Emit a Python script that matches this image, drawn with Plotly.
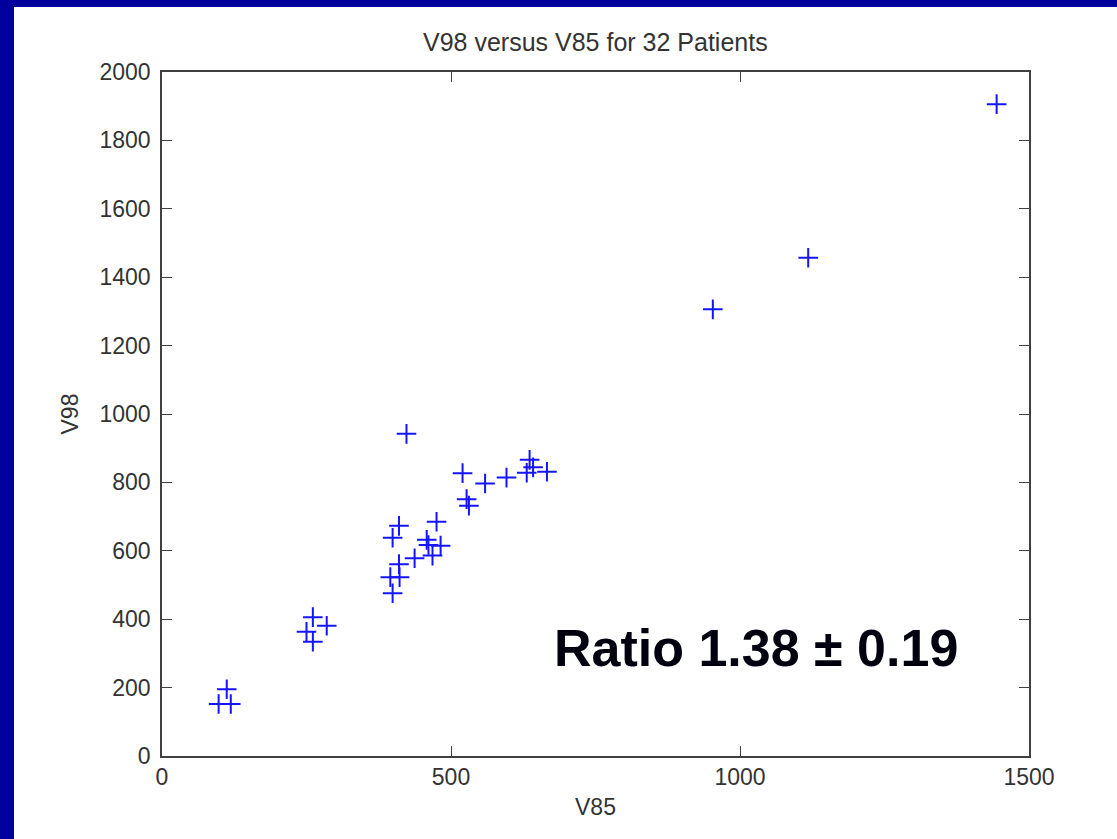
import plotly.graph_objects as go

# V85 / V98 volumes for each of the 32 patients
v85 = [1444, 1118, 953,
       423, 520, 559, 596, 636, 642, 631, 666, 527, 531,
       475, 410, 399, 458, 461, 482, 468, 437, 410, 395, 411, 399,
       261, 285, 250, 261, 112, 98, 119]
v98 = [1906, 1457, 1306,
       942, 827, 797, 814, 866, 844, 828, 831, 751, 732,
       685, 673, 638, 632, 617, 615, 586, 578, 561, 523, 523, 476,
       406, 381, 363, 334, 195, 152, 152]

x_ticks = [0, 500, 1000, 1500]
y_ticks = [0, 200, 400, 600, 800, 1000, 1200, 1400, 1600, 1800, 2000]

title_text = "V98 versus V85 for 32 Patients"
ratio_text = "Ratio 1.38 ± 0.19"

W, H = 1117, 839
L, R, T, B = 162, 88, 72, 83
pw, ph = W - L - R, H - T - B

def px_x(p):
    return (p - L) / pw

def px_y(p):
    return (H - B - p) / ph

font_family = "Arial, Liberation Sans, sans-serif"
tick_font = dict(family=font_family, size=23, color="#333333")

fig = go.Figure(
    go.Scatter(
        x=v85, y=v98, mode="markers",
        marker=dict(symbol="cross-thin", size=14, line=dict(color="#1414ff", width=2)),
        hoverinfo="x+y",
    )
)

axis_common = dict(
    showgrid=False, zeroline=False, showline=True, linecolor="#404040", linewidth=1.5,
    mirror="allticks", ticks="inside", ticklen=10, tickwidth=1.3, tickcolor="#404040",
    tickfont=tick_font,
)

fig.update_xaxes(range=[0, 1500], tickvals=x_ticks, ticktext=[str(v) for v in x_ticks],
                 title=dict(text="V85", font=dict(family=font_family, size=23, color="#333333"), standoff=10),
                 **axis_common)
fig.update_yaxes(range=[0, 2000], tickvals=y_ticks, ticktext=[str(v) for v in y_ticks],
                 ticklabelstandoff=5,
                 title=dict(text="V98", font=dict(family=font_family, size=23, color="#333333"), standoff=14),
                 **axis_common)

# white slide panel inside the blue frame
fig.add_shape(type="rect", xref="paper", yref="paper", layer="below",
              x0=px_x(14), x1=px_x(W + 5), y0=px_y(H + 5), y1=px_y(7),
              fillcolor="white", line=dict(width=0))

fig.add_annotation(text=title_text, xref="paper", yref="paper", x=0.5, y=px_y(42),
                   xanchor="center", yanchor="middle", showarrow=False,
                   font=dict(family=font_family, size=25, color="#333333"))

fig.add_annotation(text=ratio_text, xref="paper", yref="paper", x=px_x(756), y=px_y(648),
                   xanchor="center", yanchor="middle", showarrow=False,
                   font=dict(family=font_family, size=52, color="#00000f", weight="bold"))

fig.update_layout(
    width=W, height=H,
    margin=dict(l=L, r=R, t=T, b=B),
    paper_bgcolor="#00009c",
    plot_bgcolor="white",
    showlegend=False,
)

fig.write_html("out.html")
